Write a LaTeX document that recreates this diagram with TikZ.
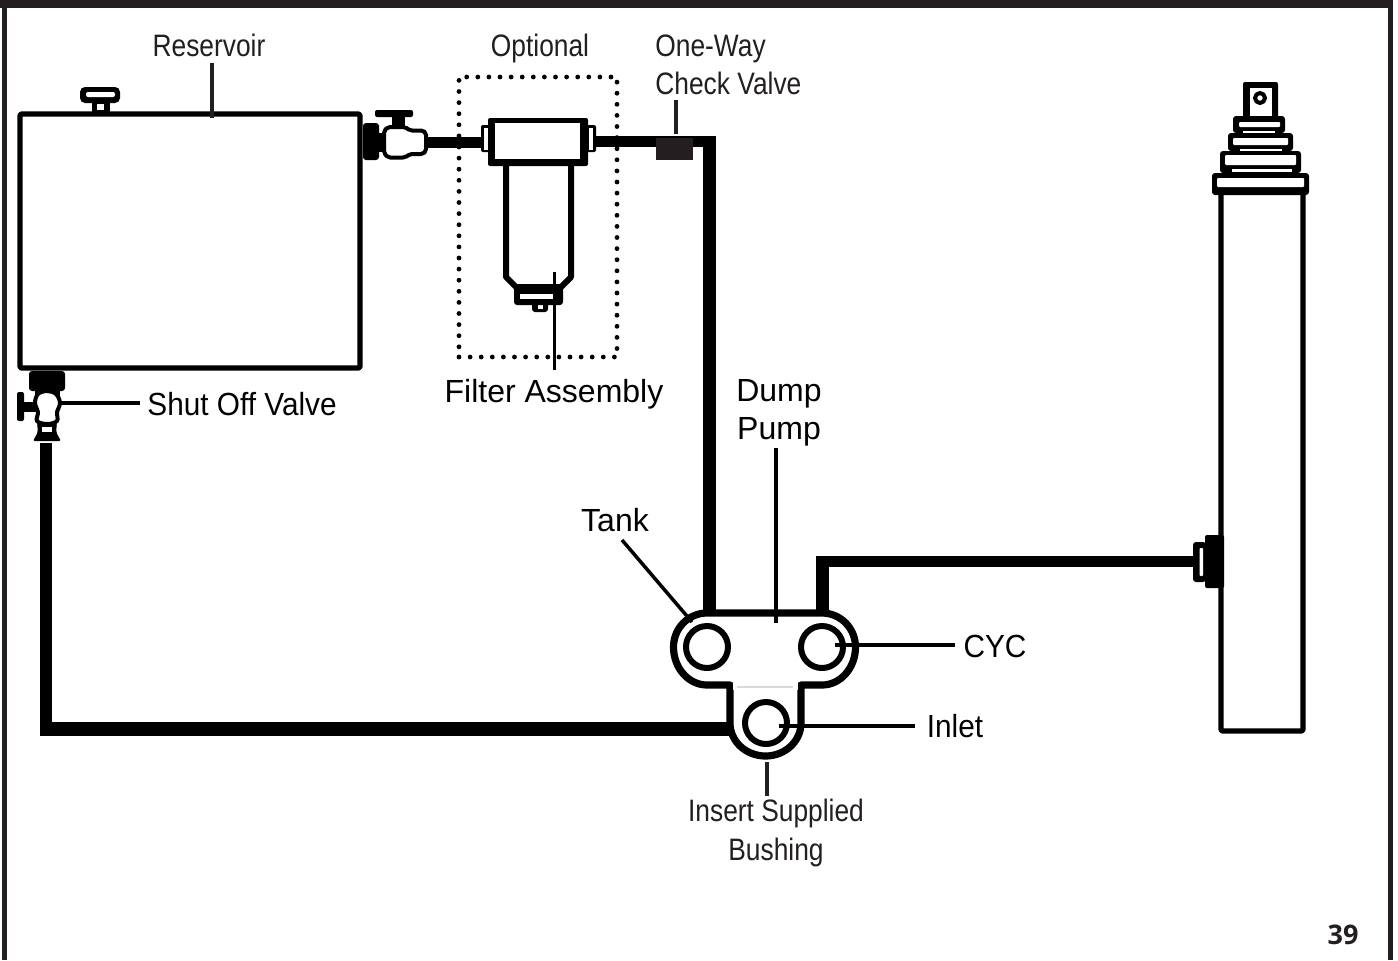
\documentclass[tikz,border=0pt]{standalone}
\usepackage{fontspec}
\setmainfont{Liberation Sans}
\newfontfamily\condfont[FakeStretch=0.85]{Liberation Sans}
\newfontfamily\widefont[FakeStretch=0.93]{Liberation Sans}
\newfontfamily\pagefont{Open Sans}
\definecolor{ink}{HTML}{231F20}
\begin{document}
\begin{tikzpicture}[x=0.5pt,y=-0.5pt,line join=round,
  part/.style={draw=black,line width=2pt,fill=white},
  hpipe/.style={draw=black,line width=6.5pt,line join=miter},
  leader/.style={draw=black,line width=1.75pt},
  darkleader/.style={draw=ink,line width=2.4pt},
  cond/.style={font=\condfont\fontsize{15.5}{18}\selectfont,text=ink,inner sep=0pt,anchor=base},
  wide/.style={font=\widefont\fontsize{16}{19}\selectfont,text=black,inner sep=0pt,anchor=base},
  ring/.style={draw=black,line width=3pt,circle,minimum size=21pt,inner sep=0pt,fill=white}]
\useasboundingbox (0,0) rectangle (1398,960);
\fill[white] (0,0) rectangle (1398,960);
% page frame
\fill[ink] (0,0) rectangle (1393,8);
\fill[ink] (2,0) rectangle (6.5,960);
\fill[ink] (1388,0) rectangle (1393,960);
% pipes
\coordinate (checkcorner) at (709.5,136);
\coordinate (tankport) at (709.5,615);
\coordinate (cycport) at (822.5,615);
\coordinate (cyccorner) at (822.5,556);
\coordinate (cylport) at (1196,561);
\coordinate (cycbend) at (816,561);
\coordinate (valveout) at (426,142);
\coordinate (filterin) at (484,142);
\coordinate (filterout) at (594,141.5);
\coordinate (checkright) at (716,141.5);
\coordinate (shutout) at (46,443);
\coordinate (shutcorner) at (46,736);
\coordinate (inletstart) at (40,729);
\coordinate (inletport) at (732,729);
\draw[hpipe,line width=5.5pt] (valveout) -- (filterin);
\draw[hpipe,line width=5.5pt] (filterout) -- (checkright);
\draw[hpipe] (checkcorner) -- (tankport);
\draw[hpipe] (cycport) -- (cyccorner);
\draw[hpipe,line width=5.5pt] (cycbend) -- (cylport);
\draw[hpipe,line width=6pt] (shutout) -- (shutcorner);
\draw[hpipe,line width=7pt] (inletstart) -- (inletport);
% reservoir
\node[draw=black,line width=2.7pt,minimum width=170pt,minimum height=127pt,inner sep=0pt,rounded corners=1pt] (tank) at (190,241) {};
\fill[black] (92,100) rectangle (110,112);
\fill[white] (97,104) rectangle (104,110);
\fill[black,rounded corners=2.5pt] (80,87) rectangle (120,103);
\fill[white,rounded corners=1pt] (86,92) rectangle (115,97);
% tank valve
\node[fill=black,rounded corners=1.5pt,minimum width=8pt,minimum height=18.5pt,inner sep=0pt] (tankvalveblock) at (371,141.5) {};
\fill[black] (378,133) rectangle (386,152);
\fill[black,rounded corners=1pt] (375,110) rectangle (413,117);
\fill[black] (392,116) rectangle (405,128);
\draw[part,rounded corners=1pt] (384,131) -- (388,127) -- (405,127) -- (410,130.5) -- (423,130.5) -- (426,133) -- (426,151) -- (423,154) -- (410,154) -- (405,157.5) -- (388,157.5) -- (384,153) -- cycle;
% filter
\draw[part,line width=3pt] (506,160) -- (506,277) -- (516,287) -- (561,287) -- (571,277) -- (571,160);
\fill[black,rounded corners=1.5pt] (532,300) rectangle (548,312);
\fill[white] (538,305) rectangle (543,309);
\fill[black,rounded corners=1.5pt] (514,285) rectangle (563,305);
\fill[white] (520,294) rectangle (553,299);
\fill[black,rounded corners=1pt] (481,125) rectangle (596,152);
\fill[white] (484,128) rectangle (488,150);
\fill[white] (589,128) rectangle (593,150);
\node[fill=black,rounded corners=1pt,minimum width=50pt,minimum height=24pt,inner sep=0pt] (filterhead) at (538,142) {};
\fill[white] (495,123) rectangle (580,159);
% optional dotted box
\node[draw=black,line width=2.4pt,line cap=round,dash pattern=on 0pt off 5.55pt,minimum width=79pt,minimum height=140pt,inner sep=0pt] (optional) at (538,217) {};
% check valve
\node[fill=ink,minimum width=18.5pt,minimum height=11pt,inner sep=0pt] (check) at (674.5,149) {};
% shut off valve
\node[fill=black,rounded corners=1.5pt,minimum width=18pt,minimum height=10pt,inner sep=0pt] (shutblock) at (47,381) {};
\fill[black,rounded corners=1pt] (17,392) rectangle (24,421);
\fill[black] (23,402) rectangle (36,412);
\fill[black] (35,391) rectangle (60,400);
\draw[part,line width=2pt] plot[smooth cycle,tension=0.6] coordinates {(47,391) (56,394) (60,403) (57,412) (57,421) (47,424) (37,421) (38,412) (35,403) (38,394)};
\fill[black,rounded corners=1pt] (37,423) -- (57,423) -- (56,432) -- (61,441) -- (33,441) -- (38,432) -- cycle;
\fill[white] (42,427) rectangle (52,432);
% pump body
\draw[black,line width=3.6pt,fill=white] (707,613) -- (822,613)
   arc[start angle=-90,end angle=0,x radius=33.5,y radius=34]
   arc[start angle=0,end angle=90,x radius=33.5,y radius=38]
   -- (801,685) -- (801,723)
   arc[start angle=0,end angle=180,x radius=35.5,y radius=33]
   -- (730,685) -- (707,685)
   arc[start angle=90,end angle=180,x radius=33.5,y radius=38]
   arc[start angle=180,end angle=270,x radius=33.5,y radius=34] -- cycle;
\fill[white] (733,680) rectangle (798,690);
\draw[draw=black!15,line width=0.8pt] (737,687) -- (793,687);
\node[ring] (tankring) at (707,647) {};
\node[ring] (cycring) at (822,647) {};
\node[ring] (inletring) at (766,723) {};
% cylinder
\node[draw=black,line width=2.7pt,minimum width=41pt,minimum height=270pt,inner sep=0pt,rounded corners=1pt] (cyl) at (1262,461) {};
\fill[black,rounded corners=1pt] (1205,535) rectangle (1224,588);
\fill[black,rounded corners=1.5pt] (1193,542) rectangle (1206,582);
\fill[white,rounded corners=0.5pt] (1199.5,548) rectangle (1203,576);
% cylinder head
\fill[black,rounded corners=1pt] (1243,82) rectangle (1278,118);
\fill[white] (1250,88) rectangle (1272,116);
\draw[black,line width=2pt] (1260,98) circle[radius=5];
\fill[black,rounded corners=1.5pt] (1233,116) rectangle (1285,133);
\fill[white,rounded corners=0.5pt] (1239,122) rectangle (1280,127);
\fill[white] (1243,131) rectangle (1275,132.5);
\fill[black,rounded corners=1.5pt] (1228,133) rectangle (1293,151);
\fill[white,rounded corners=0.5pt] (1233,138) rectangle (1288,145);
\fill[white] (1240,149) rectangle (1282,150.5);
\fill[black,rounded corners=1.5pt] (1220,151) rectangle (1301,173);
\fill[white,rounded corners=0.5pt] (1225,155) rectangle (1296,165);
\fill[white] (1232,169) rectangle (1292,171.5);
\fill[black,rounded corners=1.5pt] (1212,173) rectangle (1309,195);
\fill[white,rounded corners=0.5pt] (1217,178) rectangle (1304,187);
% labels
\node[cond] (lreservoir) at (209,56) {Reservoir};
\node[cond] (loptional) at (540,56) {Optional};
\node[cond,anchor=base west] (lcheck1) at (655,56) {One-Way};
\node[cond,anchor=base west] (lcheck2) at (655,94) {Check Valve};
\node[wide] (lshut) at (242,415) {Shut Off Valve};
\node[wide,font=\fontsize{16}{19}\selectfont] (lfilter) at (554,402) {Filter Assembly};
\node[wide,font=\fontsize{16}{19}\selectfont] (ldump1) at (779,401) {Dump};
\node[wide,font=\fontsize{16}{19}\selectfont] (ldump2) at (779,439) {Pump};
\node[wide,font=\fontsize{16}{19}\selectfont] (ltank) at (615,531) {Tank};
\node[wide] (lcyc) at (995,657) {CYC};
\node[wide] (linlet) at (955,737) {Inlet};
\node[cond] (lbush1) at (776,821) {Insert Supplied};
\node[cond] (lbush2) at (776,860) {Bushing};
\node[font=\pagefont\bfseries\fontsize{13.5}{16}\selectfont,text=ink,inner sep=0pt] (lpage) at (1343,935) {39};
% leaders
\coordinate (reslead) at (212,63);
\coordinate (resleadend) at (212,118);
\draw[darkleader] (reslead) -- (resleadend);
\coordinate (checklead) at (676,100);
\coordinate (checkleadend) at (676,134);
\draw[darkleader] (checklead) -- (checkleadend);
\coordinate (filterleadtop) at (554,272);
\coordinate (filterleadbot) at (554,370);
\draw[leader,line width=1.5pt] (filterleadtop) -- (filterleadbot);
\coordinate (shutlead) at (60,403);
\coordinate (shutleadend) at (140,403);
\draw[leader] (shutlead) -- (shutleadend);
\coordinate (tanklead) at (622,540);
\coordinate (tankleadend) at (692,622);
\draw[leader] (tanklead) -- (tankleadend);
\coordinate (dumplead) at (776,448);
\coordinate (dumpleadend) at (776,623);
\draw[leader,line width=2pt] (dumplead) -- (dumpleadend);
\coordinate (cyclead) at (835,645);
\coordinate (cycleadend) at (955,645);
\draw[leader] (cyclead) -- (cycleadend);
\coordinate (inletlead) at (779,726);
\coordinate (inletleadend) at (915,726);
\draw[leader] (inletlead) -- (inletleadend);
\coordinate (bushlead) at (767,762);
\coordinate (bushleadend) at (767,796);
\draw[darkleader] (bushlead) -- (bushleadend);
\end{tikzpicture}
\end{document}
